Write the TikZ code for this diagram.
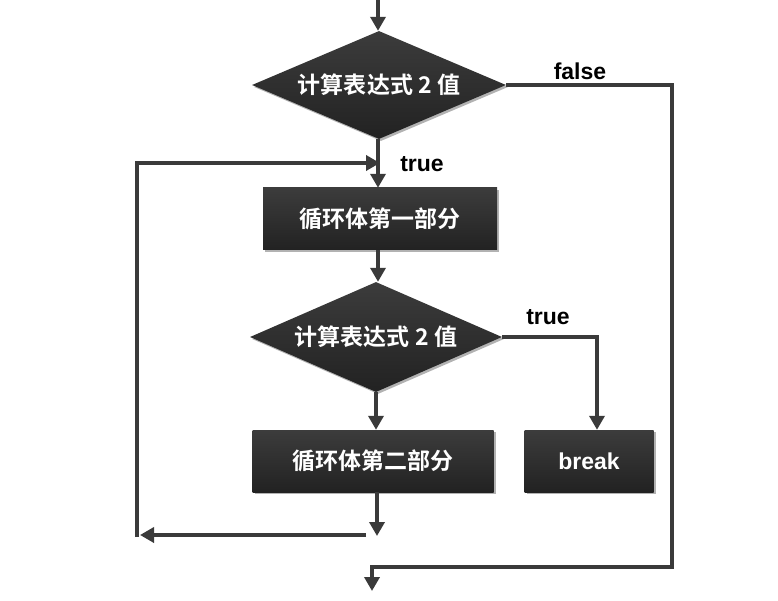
\documentclass[tikz,border=0pt]{standalone}
\usepackage{fontspec}
\setmainfont{Liberation Sans}
\newfontfamily\cjk{Noto Sans CJK SC Bold}
\usetikzlibrary{shapes.geometric,arrows.meta,shadows}
\definecolor{boxtop}{HTML}{3C3C3C}
\definecolor{boxbot}{HTML}{222222}
\definecolor{linec}{HTML}{3A3A3A}
\tikzset{
  boxbase/.style={top color=boxtop,bottom color=boxbot,draw=none,text=white,
    font=\cjk\fontsize{23}{26}\selectfont,
    drop shadow={shadow xshift=2pt,shadow yshift=-2pt,opacity=0.3,fill=black}},
  decide/.style={boxbase,diamond,aspect=2.35,inner sep=0pt},
  procbox/.style={boxbase,rectangle,inner sep=0pt},
  conn/.style={draw=linec,line width=4.5pt,line join=miter},
  arr/.style={conn,-{Triangle[length=14pt,width=15pt]}},
  lbl/.style={font=\bfseries\fontsize{23}{26}\selectfont,text=black,inner sep=0pt}
}
\begin{document}
\begin{tikzpicture}[x=1pt,y=-1pt]
\useasboundingbox (0,0) rectangle (778,601);
\node[decide,minimum width=254pt,minimum height=108pt] (d1) at (379,85) {计算表达式 2 值};
\node[procbox,minimum width=234pt,minimum height=62pt] (b1) at (380,219) {循环体第一部分};
\node[decide,minimum width=252pt,minimum height=110pt] (d2) at (376,337) {计算表达式 2 值};
\node[procbox,minimum width=241pt,minimum height=62pt] (b2) at (373,461) {循环体第二部分};
\node[procbox,minimum width=129pt,minimum height=62pt,font=\bfseries\fontsize{23}{26}\selectfont] (brk) at (589,461) {break};
\coordinate (start) at (378,0);
\coordinate (fr) at (672,85);
\coordinate (fb) at (672,567);
\coordinate (fl) at (372,567);
\coordinate (fend) at (372,591);
\coordinate (tr) at (597,334);
\coordinate (b2end) at (377,536);
\coordinate (lr) at (366,535);
\coordinate (ll) at (140,535);
\coordinate (lb) at (137,537);
\coordinate (lt) at (137,163);
\coordinate (lend) at (380,163);
\node[lbl] (lfalse) at (580,71) {false};
\node[lbl] (ltrue1) at (422,164) {true};
\node[lbl] (ltrue2) at (548,317) {true};
\draw[arr] (start) -- (start |- d1.north);
\draw[arr] ([xshift=-1pt]d1.south) -- ([xshift=-1pt]d1.south |- b1.north);
\draw[arr] ([xshift=-2pt]b1.south) -- ([xshift=-2pt]b1.south |- d2.north);
\draw[arr] (d2.south) -- (d2.south |- b2.north);
\draw[arr] (b2end |- b2.south) -- (b2end);
\draw[arr] (lr) -- (ll);
\draw[arr] (lb) -- (lt) -- (lend);
\draw[arr] (d2.east) -- (d2.east -| tr) -- (tr |- brk.north);
\draw[arr] (d1.east) -- (fr) -- (fb) -- (fl) -- (fend);
\end{tikzpicture}
\end{document}
